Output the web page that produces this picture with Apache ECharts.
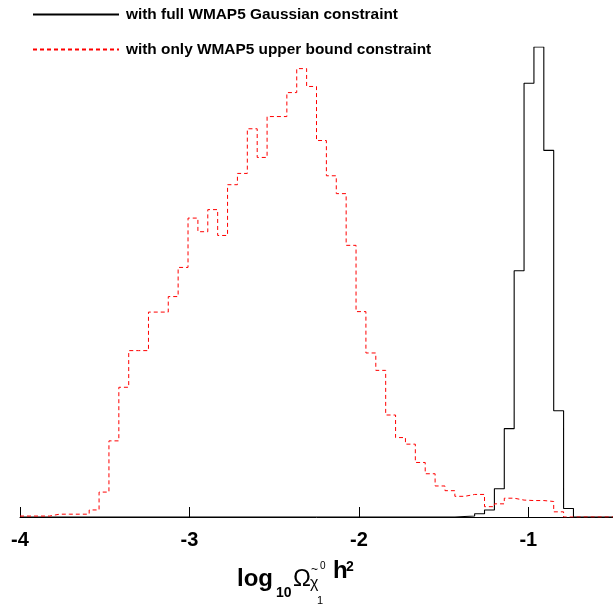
<!DOCTYPE html>
<html>
<head>
<meta charset="utf-8">
<script src="https://cdn.jsdelivr.net/npm/echarts@6/dist/echarts.min.js"></script>
<style>html,body{margin:0;padding:0;background:#fff;}#c{width:613px;height:610px;}</style>
</head>
<body>
<div id="c"></div>
<script>
// Histogram binning: 60 bins from -4 to -0.5
const binStart = -4;
const binEnd = -0.5;
const binCount = 60;
const xTicks = [-4, -3, -2, -1];
const seriesNames = ['with full WMAP5 Gaussian constraint', 'with only WMAP5 upper bound constraint'];

// relative frequency per bin (black peak = 1)
const gaussianVals = [
  0,0,0,0,0,0,0,0,0,0,
  0,0,0,0,0,0,0,0,0,0,
  0,0,0,0,0,0,0,0,0,0,
  0,0,0,0,0,0,0,0,0,0,
  0,0,0,0,0.001,0.002,0.007,0.015,0.060,0.188,
  0.524,0.923,1.000,0.780,0.226,0.018,0,0,0,0
];
const upperBoundVals = [
  0.002,0.002,0.002,0.006,0.006,0.006,0.006,0.015,0.053,0.162,
  0.276,0.354,0.354,0.436,0.436,0.469,0.531,0.636,0.607,0.654,
  0.599,0.707,0.731,0.826,0.765,0.852,0.852,0.903,0.954,0.916,
  0.801,0.726,0.688,0.578,0.437,0.349,0.312,0.217,0.169,0.155,
  0.116,0.092,0.066,0.056,0.044,0.048,0.048,0.022,0.028,0.040,
  0.036,0.035,0.035,0.033,0.011,0,0,0,0,0
];

function stepPoints(vals) {
  const w = (binEnd - binStart) / binCount;
  const pts = vals.map((v, i) => [binStart + i * w, v]);
  pts.push([binEnd, vals[vals.length - 1]]);
  return pts;
}

const chart = echarts.init(document.getElementById('c'), null, {renderer: 'canvas'});
const FONT = '"Liberation Sans", Arial, Helvetica, sans-serif';
chart.setOption({
  animation: false,
  backgroundColor: '#fff',
  grid: {left: 20, top: 47, width: 596, height: 470, containLabel: false},
  legend: {
    orient: 'vertical', left: 32, top: 7, padding: 0,
    itemWidth: 86, itemHeight: 14, itemGap: 20,
    itemStyle: {opacity: 0},
    textStyle: {fontFamily: FONT, fontWeight: 'bold', fontSize: 15.4, color: '#000', padding: [0,0,0,2]},
    data: seriesNames
  },
  xAxis: {
    type: 'value', min: binStart, max: binEnd, interval: 1,
    axisLine: {show: true, onZero: false, lineStyle: {color: '#000', width: 1}},
    axisTick: {show: true, inside: true, length: 10, lineStyle: {color: '#000', width: 1}},
    splitLine: {show: false},
    axisLabel: {
      showMaxLabel: false, margin: 13,
      fontFamily: FONT, fontWeight: 'bold', fontSize: 20, color: '#000',
      formatter: v => (xTicks.indexOf(v) >= 0 ? String(v) : '')
    }
  },
  yAxis: {type: 'value', min: 0, max: 1, show: false, splitLine: {show: false}},
  series: [
    {
      name: seriesNames[0], type: 'line', step: 'end', symbol: 'none',
      data: stepPoints(gaussianVals),
      lineStyle: {color: '#000', width: 1.1}, itemStyle: {color: '#000'}, z: 2
    },
    {
      name: seriesNames[1], type: 'line', step: 'end', symbol: 'none',
      data: stepPoints(upperBoundVals),
      lineStyle: {color: '#ff0000', width: 1, type: [4, 3]}, itemStyle: {color: '#ff0000'}, z: 3
    }
  ],
  graphic: [
    {type: 'text', left: 237, top: 567, style: {text: 'log', font: 'bold 24px ' + FONT, fill: '#000'}},
    {type: 'text', left: 276, top: 586, style: {text: '10', font: 'bold 14px ' + FONT, fill: '#000'}},
    {type: 'text', left: 293, top: 567, style: {text: 'Ω', font: '24px ' + FONT, fill: '#000'}},
    {type: 'text', left: 310, top: 576, style: {text: 'χ', font: '16px ' + FONT, fill: '#000'}},
    {type: 'text', left: 311, top: 564, style: {text: '~', font: '12px ' + FONT, fill: '#000'}},
    {type: 'text', left: 320, top: 561, style: {text: '0', font: '10px ' + FONT, fill: '#000'}},
    {type: 'text', left: 317, top: 595, style: {text: '1', font: '11px ' + FONT, fill: '#000'}},
    {type: 'text', left: 333, top: 559, style: {text: 'h', font: 'bold 24px ' + FONT, fill: '#000'}},
    {type: 'text', left: 346, top: 560, style: {text: '2', font: 'bold 14px ' + FONT, fill: '#000'}}
  ]
});
</script>
</body>
</html>
